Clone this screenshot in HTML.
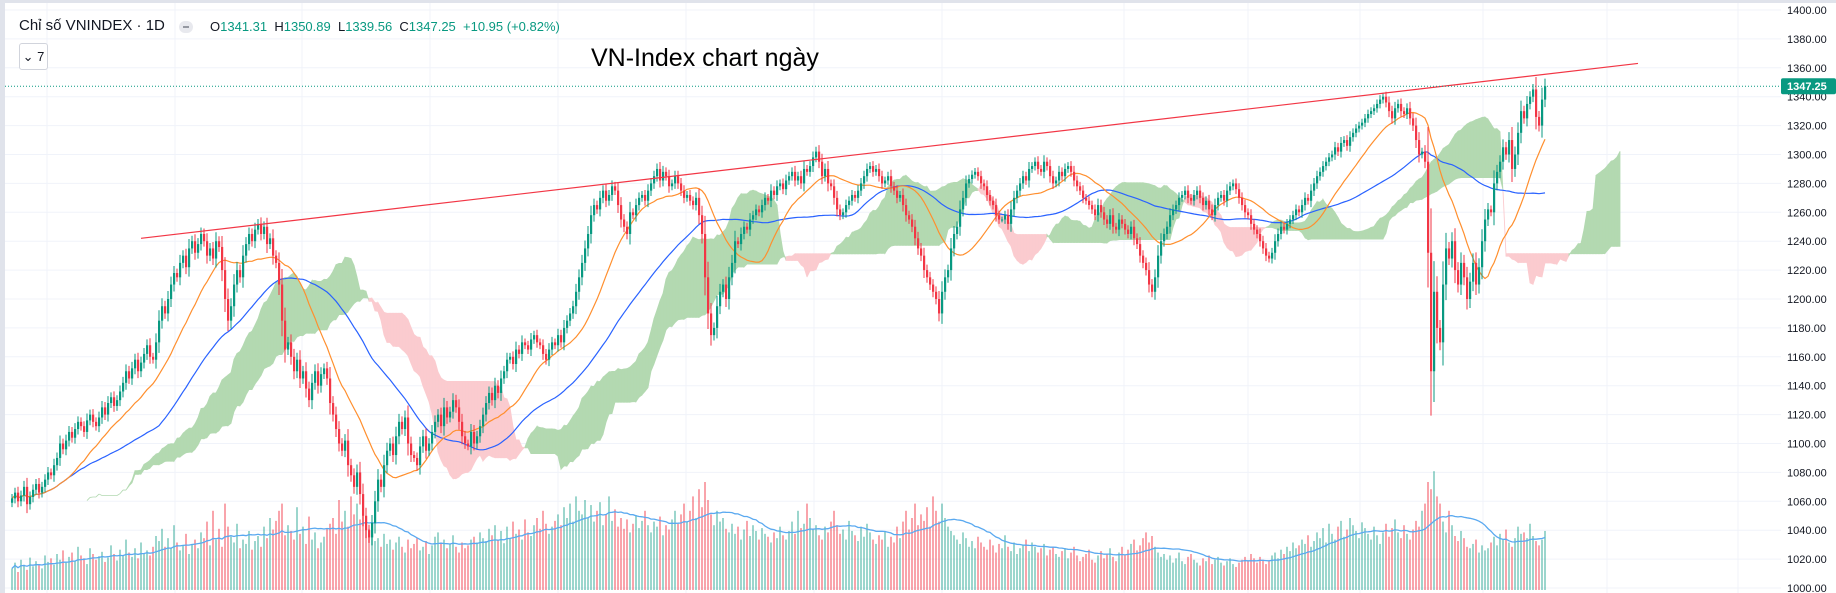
<!DOCTYPE html>
<html><head><meta charset="utf-8">
<style>
html,body{margin:0;padding:0;background:#fff;overflow:hidden}
body{width:1836px;height:593px;position:relative;font-family:"Liberation Sans","Noto Sans CJK SC",sans-serif}
#hdr{position:absolute;left:19px;top:17px;font-size:15px;color:#131722;white-space:nowrap}
#ohlc{position:absolute;left:210px;top:19px;font-size:13px;color:#089981;white-space:nowrap}
#ohlc b{font-weight:normal;color:#131722}
#dot{position:absolute;left:179px;top:21px;width:14px;height:12px;border-radius:6px;background:#e8e9ee}
#dot i{position:absolute;left:4px;top:5px;width:6px;height:2px;background:#9598a1}
#cnt{position:absolute;left:19px;top:43px;width:27px;height:25px;border:1px solid #d1d4dc;border-radius:3px;font-size:13px;color:#131722;line-height:25px;text-align:center;background:#fff}
#title{position:absolute;left:591px;top:44px;font-size:25px;color:#000}
</style></head><body>
<svg id="chart" width="1836" height="593" style="position:absolute;left:0;top:0">
<g id="grid"></g><g id="cloud"></g><g id="vol"></g><g id="lines"></g><g id="candles"></g><g id="over"></g><g id="axis"></g>
</svg>
<div id="hdr">Chỉ số VNINDEX · 1D</div>
<div id="dot"><i></i></div>
<div id="ohlc"><b>O</b>1341.31 &nbsp;<b>H</b>1350.89 &nbsp;<b>L</b>1339.56 &nbsp;<b>C</b>1347.25 &nbsp;+10.95 (+0.82%)</div>
<div id="cnt">⌄ 7</div>
<div id="title">VN-Index chart ngày</div>
<script>
const closes=[
1062,1066,1060,1064,1070,1058,1063,1068,1072,1066,
1070,1075,1080,1078,1085,1090,1100,1096,1102,1108,
1104,1110,1115,1112,1108,1116,1120,1115,1112,1118,
1125,1120,1128,1132,1126,1130,1136,1142,1150,1145,
1152,1158,1150,1156,1162,1168,1160,1158,1170,1185,
1195,1190,1200,1210,1218,1215,1225,1230,1222,1235,
1240,1232,1238,1245,1240,1230,1235,1228,1240,1236,
1220,1200,1185,1195,1210,1220,1215,1230,1238,1245,
1240,1248,1252,1245,1250,1238,1242,1230,1225,1210,
1185,1165,1170,1160,1150,1158,1145,1150,1138,1130,
1142,1150,1140,1148,1152,1145,1128,1120,1110,1100,
1095,1102,1085,1078,1070,1080,1065,1050,1040,1035,
1045,1060,1075,1070,1085,1095,1100,1092,1105,1115,
1110,1118,1100,1092,1090,1085,1098,1105,1095,1100,
1108,1115,1120,1112,1125,1118,1122,1130,1125,1115,
1105,1100,1098,1108,1100,1105,1112,1120,1128,1135,
1130,1140,1135,1145,1150,1158,1160,1155,1165,1162,
1170,1168,1165,1172,1175,1170,1168,1162,1158,1165,
1170,1168,1175,1170,1180,1185,1190,1195,1205,1215,
1225,1235,1245,1258,1265,1262,1270,1275,1268,1272,
1278,1275,1265,1255,1250,1245,1260,1258,1265,1270,
1272,1268,1275,1280,1285,1290,1282,1288,1285,1278,
1280,1285,1280,1275,1270,1272,1268,1265,1270,1258,
1245,1215,1190,1175,1180,1195,1205,1210,1200,1215,
1225,1240,1238,1245,1250,1248,1255,1258,1262,1260,
1265,1270,1268,1275,1272,1278,1280,1276,1282,1285,
1288,1282,1285,1280,1290,1288,1292,1298,1302,1295,
1285,1290,1280,1278,1270,1262,1258,1260,1265,1268,
1272,1270,1275,1280,1285,1290,1292,1288,1290,1285,
1280,1282,1285,1278,1275,1270,1272,1265,1258,1255,
1250,1242,1235,1230,1220,1215,1210,1205,1200,1190,
1205,1215,1220,1235,1245,1250,1262,1270,1280,1283,
1286,1288,1285,1280,1278,1272,1268,1265,1258,1255,
1255,1258,1252,1262,1270,1275,1280,1285,1282,1290,
1292,1295,1290,1288,1295,1292,1285,1280,1282,1288,
1285,1290,1292,1288,1282,1278,1275,1270,1268,1265,
1262,1258,1265,1260,1255,1252,1258,1250,1248,1255,
1252,1248,1245,1250,1242,1238,1230,1225,1220,1210,
1205,1215,1230,1240,1245,1250,1258,1262,1265,1270,
1272,1275,1270,1268,1272,1275,1270,1265,1268,1262,
1258,1265,1270,1272,1268,1275,1278,1280,1276,1270,
1265,1260,1258,1252,1248,1245,1240,1235,1230,1228,
1232,1240,1245,1250,1248,1252,1255,1258,1262,1260,
1265,1270,1268,1275,1280,1285,1288,1292,1295,1298,
1300,1305,1302,1308,1310,1306,1312,1315,1318,1320,
1322,1325,1328,1330,1332,1335,1338,1340,1336,1330,
1325,1332,1335,1330,1328,1332,1325,1320,1310,1300,
1302,1295,1232,1150,1205,1180,1170,1210,1235,1228,
1240,1220,1210,1225,1215,1200,1212,1225,1210,1222,
1240,1255,1262,1260,1280,1288,1295,1305,1300,1310,
1290,1300,1315,1330,1325,1335,1340,1345,1326,1320,
1338,1347.25];
const volumes=[
30,38,25,42,35,28,45,33,40,36,30,48,39,44,35,50,
42,55,38,46,52,40,60,48,44,36,58,50,42,47,53,39,
45,62,50,41,56,48,70,52,46,58,44,66,50,55,48,60,
75,68,85,60,72,58,90,66,55,62,78,50,64,70,58,80,
72,95,62,110,70,85,60,120,88,74,66,92,58,70,64,82,
56,68,75,60,88,72,100,84,96,110,120,76,90,82,70,115,
78,88,64,102,70,80,58,66,74,85,92,100,78,125,95,110,
88,130,105,120,98,110,92,85,80,68,72,60,78,64,70,56,
66,74,60,52,70,58,64,72,55,60,68,50,62,74,80,66,
70,58,64,76,60,52,66,58,62,70,74,66,80,72,68,85,
76,90,70,82,65,88,72,95,78,84,70,98,80,75,90,100,
85,110,92,78,88,96,105,90,115,100,120,95,130,110,105,125,
100,118,95,110,122,90,105,130,96,112,88,100,85,98,80,92,
104,86,96,110,90,80,95,88,102,76,90,84,98,110,92,105,
120,95,110,130,100,140,115,150,125,105,90,110,95,100,85,80,
92,78,88,70,84,96,75,90,82,70,86,78,74,66,80,72,
88,76,70,82,95,78,110,86,92,120,100,84,90,76,70,88,
80,95,110,90,78,84,70,96,82,76,68,88,74,92,80,70,
64,76,70,82,60,74,66,88,72,95,110,84,100,120,90,105,
96,115,88,130,110,95,120,100,88,82,76,70,64,80,72,60,
68,58,74,66,60,56,70,62,52,64,58,76,60,54,66,50,
58,62,70,54,66,60,52,58,64,48,56,60,50,46,54,58,
44,52,60,48,40,46,50,56,42,38,48,54,44,50,58,46,
40,52,60,48,56,64,70,55,62,72,80,66,75,60,52,46,
50,42,48,38,44,52,40,36,46,50,42,38,34,44,40,48,
36,42,46,38,34,40,44,36,32,38,42,46,40,50,44,38,
46,42,36,40,48,52,44,56,50,60,54,66,58,62,70,64,
76,60,68,80,72,86,66,92,78,70,88,96,74,84,100,90,
82,72,94,86,78,70,88,76,64,80,92,74,86,98,80,72,
90,78,70,84,96,88,110,120,150,140,165,130,120,95,80,110,
90,75,68,82,72,60,58,64,70,52,62,55,58,66,74,62,
78,70,84,66,60,72,88,78,80,72,92,75,68,62,70,82];
const priceTicks=[1400,1380,1360,1340,1320,1300,1280,1260,1240,1220,1200,1180,1160,1140,1120,1100,1080,1060,1040,1020,1000];
const trendStart=[43,1242];
const trendEnd=[542,1363];
const lastPrice=1347.25;

const NS='http://www.w3.org/2000/svg';
const X=i=>12+3*i;
const Y=p=>10+(1400-p)*1.445;
const VBASE=590, VSCALE=0.72;
const VY=v=>VBASE-v*VSCALE;
function mk(tag,attrs,parent){const e=document.createElementNS(NS,tag);for(const k in attrs)e.setAttribute(k,attrs[k]);parent.appendChild(e);return e;}
const G=id=>document.getElementById(id);
const N=closes.length;
const opens=closes.map((c,i)=>i?closes[i-1]:c-3);
const highs=closes.map((c,i)=>Math.max(c,opens[i])+Math.abs(c-opens[i])*0.35+2);
const lows=closes.map((c,i)=>Math.min(c,opens[i])-Math.abs(c-opens[i])*0.35-2);

const grid=G('grid');
let r=mk('rect',{x:0,y:0,width:1836,height:3,fill:'#e0e3eb'},grid);


r=mk('rect',{x:0,y:0,width:5,height:593,fill:'#e0e3eb'},grid);


priceTicks.forEach(p=>{
  const l=mk('line',{x1:5,x2:1781,y1:Y(p),y2:Y(p),stroke:'#f0f3fa','stroke-width':1},grid);
  
  
});
[47,175,302,430,558,686,814,942,1124,1248,1360,1483,1607,1738].forEach(x=>{
  const l=mk('line',{x1:x,x2:x,y1:3,y2:593,stroke:'#f0f3fa','stroke-width':1},grid);
  
  
});

const hh=(i,n)=>{let m=-1e9;for(let k=Math.max(0,i-n+1);k<=i;k++)m=Math.max(m,highs[k]);return m;};
const ll=(i,n)=>{let m=1e9;for(let k=Math.max(0,i-n+1);k<=i;k++)m=Math.min(m,lows[k]);return m;};
const SHIFT=25;
const spanA=[],spanB=[];
for(let i=0;i<N;i++){const t=(hh(i,9)+ll(i,9))/2,k=(hh(i,26)+ll(i,26))/2;spanA.push((t+k)/2);spanB.push((hh(i,52)+ll(i,52))/2);}
const cloud=G('cloud');
for(let i=0;i<N-1;i++){
  const a0=spanA[i],a1=spanA[i+1],b0=spanB[i],b1=spanB[i+1];
  const up=(a0+a1)>=(b0+b1);
  const col=up?'#b3d9b1':'#fbcbcf';
  const x0=X(i+SHIFT),x1=X(i+1+SHIFT);
  const pg=mk('polygon',{points:`${x0},${Y(a0)} ${x1},${Y(a1)} ${x1},${Y(b1)} ${x0},${Y(b0)}`,fill:col,stroke:col,'stroke-width':0.8},cloud);
  
  
}

const vol=G('vol');
for(let i=0;i<N;i++){
  const up=closes[i]>=opens[i];
  const b=mk('rect',{x:X(i)-1,y:VY(volumes[i]),width:2,height:volumes[i]*VSCALE,fill:up?'rgba(8,153,129,0.4)':'rgba(242,54,69,0.45)'},vol);
  
  
}
const sma=(arr,n)=>arr.map((v,i)=>{let s=0,c=0;for(let k=Math.max(0,i-n+1);k<=i;k++){s+=arr[k];c++;}return s/c;});
const lines=G('lines');
function poly(vals,yf,color,w,name){
  const p=mk('polyline',{points:vals.map((v,i)=>X(i)+','+yf(v).toFixed(1)).join(' '),fill:'none',stroke:color,'stroke-width':w},lines);
  
  
}
poly(sma(volumes,20),VY,'#5aa9f0',1.3,'volume-ma-line');
poly(sma(closes,50),Y,'#2962ff',1.2,'ma50-line');
poly(sma(closes,20),Y,'#ff8f2e',1.2,'ma20-line');

const cg=G('candles');
for(let i=0;i<N;i++){
  const up=closes[i]>=opens[i];const col=up?'#089981':'#f23645';
  const w=mk('line',{x1:X(i),x2:X(i),y1:Y(highs[i]),y2:Y(lows[i]),stroke:col,'stroke-width':1},cg);
  
  
  const top=Y(Math.max(opens[i],closes[i])),h=Math.max(1,Y(Math.min(opens[i],closes[i]))-top);
  const b=mk('rect',{x:X(i)-1,y:top,width:2.2,height:h,fill:col},cg);
  
  
}

const ov=G('over');
const tl=mk('line',{x1:X(trendStart[0]),y1:Y(trendStart[1]),x2:X(trendEnd[0]),y2:Y(trendEnd[1]),stroke:'#f23645','stroke-width':1.2},ov);


const pl=mk('line',{x1:5,x2:1781,y1:Y(lastPrice),y2:Y(lastPrice),stroke:'#089981','stroke-width':1,'stroke-dasharray':'1 2'},ov);



const ax=G('axis');
priceTicks.forEach(p=>{
  const t=mk('text',{x:1787,y:Y(p)+4,'font-size':11,fill:'#131722','font-family':'Liberation Sans, sans-serif'},ax);
  t.textContent=p.toFixed(2);
  
  
});
const pb=mk('rect',{x:1781,y:Y(lastPrice)-8,width:55,height:16,fill:'#089981',rx:2},ax);


const pt=mk('text',{x:1787,y:Y(lastPrice)+4,'font-size':11,fill:'#fff','font-weight':'bold','font-family':'Liberation Sans, sans-serif'},ax);
pt.textContent=lastPrice.toFixed(2);


</script>
</body></html>
